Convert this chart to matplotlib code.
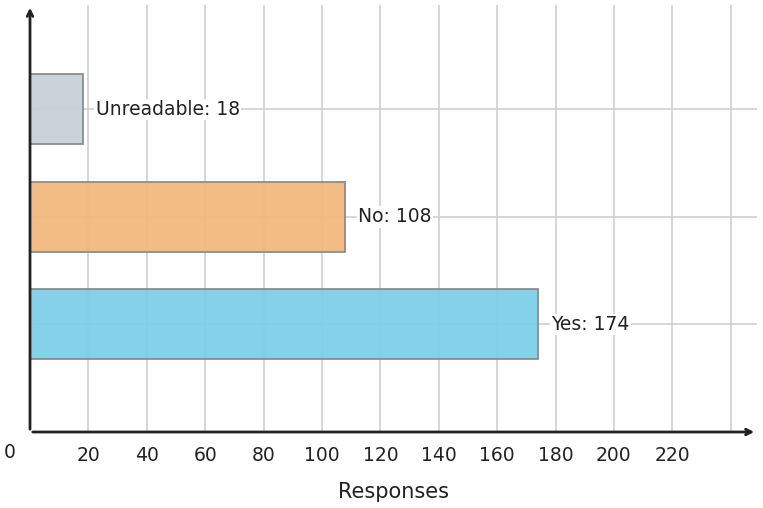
import matplotlib
matplotlib.use("Agg")
import matplotlib.pyplot as plt

categories = ["Yes", "No", "Unreadable"]
values = [174, 108, 18]
colors = ["#7ecfe9", "#f2b97d", "#c8d1d6"]
xticks = [20, 40, 60, 80, 100, 120, 140, 160, 180, 200, 220]

fig = plt.figure(figsize=(7.63, 5.08), dpi=100)
ax = fig.add_axes([30/763, 1-432/508, 727/763, 427/508])
ax.set_xlim(0, 249)
ax.set_ylim(-1, 2.97)
ax.set_axisbelow(True)
for x in range(20, 250, 20):
    ax.axvline(x, color="#d0d0d0", lw=1.2, zorder=0)
for i in range(len(categories)):
    ax.axhline(i, color="#d0d0d0", lw=1.2, zorder=0)
ax.barh(range(len(categories)), values, height=0.65, color=colors,
        edgecolor="#888888", linewidth=1.3, alpha=0.95, zorder=2)
for i, (c, v) in enumerate(zip(categories, values)):
    ax.text(v + 4.5, i, f"{c}: {v}", va="center", ha="left", fontsize=13.5,
            color="#222222", zorder=3,
            bbox=dict(facecolor="white", edgecolor="none", pad=1))
for s in ax.spines.values():
    s.set_visible(False)
ax.set_xticks(xticks)
ax.set_xticklabels([str(t) for t in xticks], fontsize=13.5, color="#222222")
ax.tick_params(axis="x", length=0, pad=10)
ax.set_yticks(range(len(categories)))
ax.set_yticklabels([])
ax.tick_params(axis="y", length=4, direction="in", color="#888888")
ax.annotate("0", xy=(10/763, 1-453/508), xycoords="figure fraction", ha="center",
            va="center", fontsize=13.5, color="#222222")
ax.annotate("", xy=(1.0, 0), xytext=(0, 0), xycoords="axes fraction",
            arrowprops=dict(arrowstyle="->", lw=2, color="#222222"), annotation_clip=False)
ax.annotate("", xy=(0, 1.0), xytext=(0, 0), xycoords="axes fraction",
            arrowprops=dict(arrowstyle="->", lw=2, color="#222222"), annotation_clip=False)
ax.set_xlabel("Responses", fontsize=15, color="#222222", labelpad=12)
fig.savefig("out.png", dpi=100)
